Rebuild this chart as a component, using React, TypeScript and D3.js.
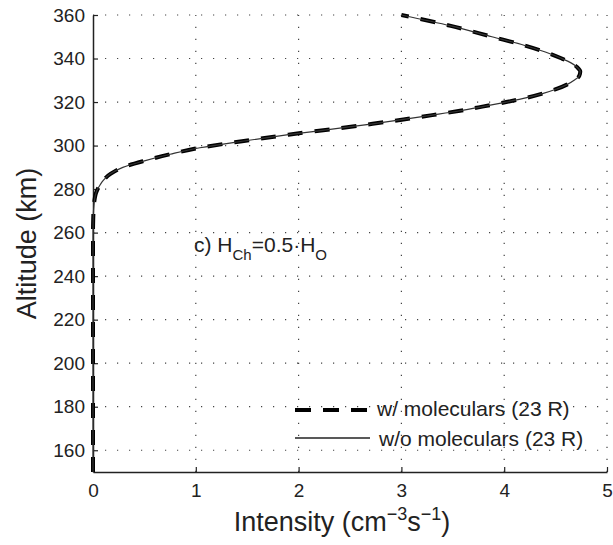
import React, { useEffect, useRef } from 'react';
import * as d3 from 'd3';

// altitude (km) and intensity (cm^-3 s^-1)
const altitudes = [150, 200, 250, 260, 266, 270, 273, 276, 278, 280, 282, 284, 287, 290, 293, 296, 299, 302, 305, 308, 310, 312, 314, 316, 318, 320, 322, 324, 326, 328, 330, 332, 334, 336, 338, 340, 343, 346, 350, 355, 360];
const intensities = [0, 0, 0, 0, 0.002, 0.005, 0.01, 0.018, 0.028, 0.045, 0.07, 0.1, 0.17, 0.29, 0.5, 0.75, 1.04, 1.45, 1.9, 2.4, 2.72, 3.02, 3.3, 3.57, 3.8, 4.02, 4.22, 4.38, 4.51, 4.61, 4.68, 4.73, 4.74, 4.71, 4.65, 4.56, 4.4, 4.2, 3.88, 3.48, 3.0];

const xTicks = [0, 1, 2, 3, 4, 5];
const yTicks = [160, 180, 200, 220, 240, 260, 280, 300, 320, 340, 360];
const legendLabels = ['w/ moleculars (23 R)', 'w/o moleculars (23 R)'];

const W = 613;
const H = 545;
const font = 'Liberation Sans, Arial, Helvetica, sans-serif';

function App() {
  const svgRef = useRef<SVGSVGElement>(null);

  useEffect(() => {
    const svg = d3.select(svgRef.current);
    svg.selectAll('*').remove();

    const x = d3.scaleLinear().domain([0, 5]).range([93, 607]);
    const y = d3.scaleLinear().domain([150, 360]).range([472, 15]);

    const data = altitudes.map((a, i) => ({ alt: a, v: intensities[i] }));

    // dotted grid
    const grid = svg.append('g')
      .attr('stroke', '#444')
      .attr('stroke-width', 1.2)
      .attr('stroke-dasharray', '1.2 10.8');
    grid.selectAll('.gx')
      .data(xTicks.filter(d => d > 0))
      .join('line')
      .attr('x1', d => x(d)).attr('x2', d => x(d))
      .attr('y1', y(150)).attr('y2', y(360));
    grid.selectAll('.gy')
      .data(yTicks)
      .join('line')
      .attr('x1', x(0)).attr('x2', x(5))
      .attr('y1', d => y(d)).attr('y2', d => y(d));

    // axes (MATLAB style: inward ticks, left + bottom only)
    const xAxis = svg.append('g')
      .attr('transform', `translate(0,${y(150)})`)
      .call(d3.axisBottom(x).tickValues(xTicks).tickFormat(d3.format('d')).tickSizeInner(-5).tickSizeOuter(0).tickPadding(12));
    const yAxis = svg.append('g')
      .attr('transform', `translate(${x(0)},0)`)
      .call(d3.axisLeft(y).tickValues(yTicks).tickFormat(d3.format('d')).tickSizeInner(-5).tickSizeOuter(0).tickPadding(8));
    [xAxis, yAxis].forEach(ax => {
      ax.select('.domain').attr('stroke', '#222').attr('stroke-width', 1.5);
      ax.selectAll('.tick line').attr('stroke', '#222').attr('stroke-width', 1.2);
      ax.selectAll('.tick text')
        .attr('fill', '#222')
        .style('font-family', font)
        .style('font-size', '19px');
    });

    const line = d3.line<{ alt: number; v: number }>()
      .x(d => x(d.v))
      .y(d => y(d.alt))
      .curve(d3.curveMonotoneY);

    // w/ moleculars: thick dashes
    svg.append('path')
      .datum(data)
      .attr('fill', 'none')
      .attr('stroke', '#000')
      .attr('stroke-width', 4)
      .attr('stroke-dasharray', '15 12')
      .attr('d', line);

    // w/o moleculars: thin solid
    svg.append('path')
      .datum(data)
      .attr('fill', 'none')
      .attr('stroke', '#333')
      .attr('stroke-width', 1.2)
      .attr('d', line);

    // legend
    const lg = svg.append('g');
    lg.append('line')
      .attr('x1', 295).attr('x2', 367).attr('y1', 410).attr('y2', 410)
      .attr('stroke', '#000').attr('stroke-width', 4).attr('stroke-dasharray', '16 12');
    lg.append('line')
      .attr('x1', 295).attr('x2', 370).attr('y1', 438).attr('y2', 438)
      .attr('stroke', '#222').attr('stroke-width', 1.3);
    lg.selectAll('text')
      .data(legendLabels)
      .join('text')
      .attr('x', (d, i) => (i === 0 ? 377 : 379))
      .attr('y', (d, i) => 416 + i * 30)
      .attr('fill', '#222')
      .style('font-family', font)
      .style('font-size', '21px')
      .text(d => d);

    // annotation c) H_Ch = 0.5 . H_O
    const ann = svg.append('text')
      .attr('x', 194).attr('y', 252)
      .attr('fill', '#222')
      .style('font-family', font)
      .style('font-size', '21px');
    ann.append('tspan').text('c) H');
    ann.append('tspan').attr('dy', 8).style('font-size', '15px').text('Ch');
    ann.append('tspan').attr('dy', -8).text('=0.5·H');
    ann.append('tspan').attr('dy', 8).style('font-size', '15px').text('O');

    // axis titles
    const xt = svg.append('text')
      .attr('x', 342).attr('y', 531)
      .attr('text-anchor', 'middle')
      .attr('fill', '#222')
      .style('font-family', font)
      .style('font-size', '27px');
    xt.append('tspan').text('Intensity (cm');
    xt.append('tspan').attr('dy', -11).style('font-size', '18px').text('−3');
    xt.append('tspan').attr('dy', 11).text('s');
    xt.append('tspan').attr('dy', -11).style('font-size', '18px').text('−1');
    xt.append('tspan').attr('dy', 11).text(')');

    svg.append('text')
      .attr('transform', `translate(36,${(y(150) + y(360)) / 2}) rotate(-90)`)
      .attr('text-anchor', 'middle')
      .attr('fill', '#222')
      .style('font-family', font)
      .style('font-size', '27px')
      .text('Altitude (km)');
  }, []);

  return (
    <svg
      ref={svgRef}
      width={W}
      height={H}
      style={{ position: 'absolute', left: 0, top: 0, background: '#fff' }}
    />
  );
}

export default App;
